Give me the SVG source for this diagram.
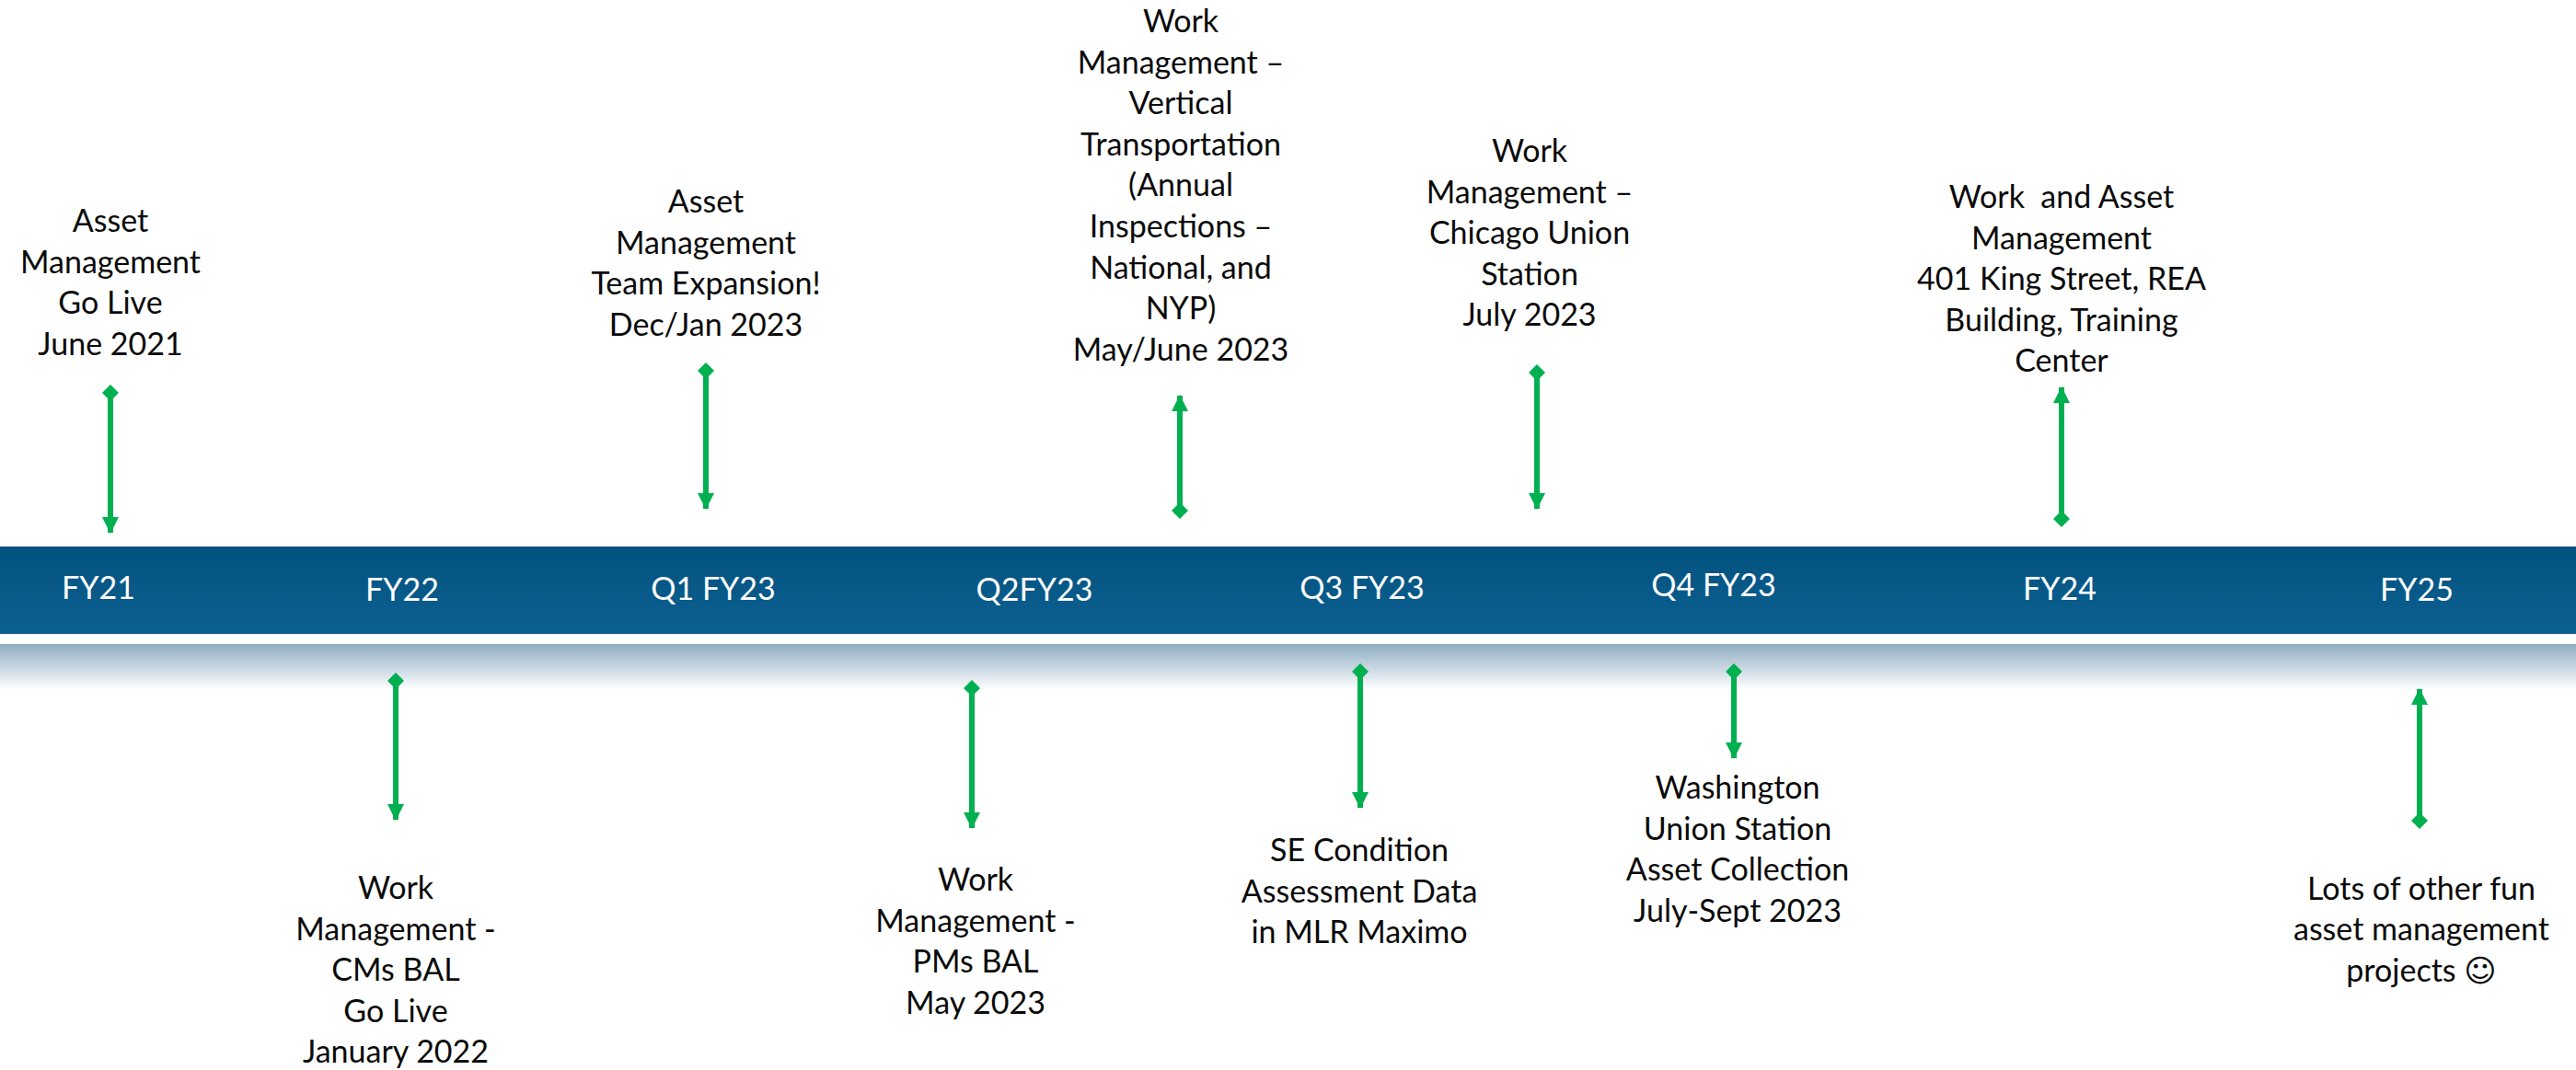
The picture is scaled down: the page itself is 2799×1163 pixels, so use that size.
<svg xmlns="http://www.w3.org/2000/svg" width="2799" height="1163" viewBox="0 0 2799 1163">
<style>
.t{font-family:"Lato","Liberation Sans",sans-serif;font-size:34px;fill:#0a0a0a;text-anchor:middle;white-space:pre}
.b{font-family:"Lato","Liberation Sans",sans-serif;font-size:34px;fill:#fff;text-anchor:middle}
.c{stroke:#00b050;stroke-width:6;fill:none}
.s{font-family:"DejaVu Sans",sans-serif}
</style>
<defs>
<linearGradient id="bar" x1="0" y1="0" x2="0" y2="1"><stop offset="0" stop-color="#03527f"/><stop offset="1" stop-color="#0c6091"/></linearGradient>
<linearGradient id="fade" x1="0" y1="0" x2="0" y2="1"><stop offset="0" stop-color="#8fadc3"/><stop offset="1" stop-color="#fff"/></linearGradient>
<marker id="arr" markerUnits="userSpaceOnUse" markerWidth="18" markerHeight="18" refX="17" refY="9" orient="auto-start-reverse"><path d="M0 0L18 9L0 18Z" fill="#00b050"/></marker>
<marker id="dia" markerUnits="userSpaceOnUse" markerWidth="18" markerHeight="18" refX="9" refY="9" orient="auto"><path d="M0 9L9 0L18 9L9 18Z" fill="#00b050"/></marker>
</defs>
<g id="timeline-bar"><rect x="0" y="594" width="2799" height="95" fill="url(#bar)"/><rect x="0" y="700" width="2799" height="50" fill="url(#fade)"/></g>
<g id="connectors">
<path class="c" d="M120 427V579" marker-start="url(#dia)" marker-end="url(#arr)"/>
<path class="c" d="M430 740V891" marker-start="url(#dia)" marker-end="url(#arr)"/>
<path class="c" d="M767 403V553" marker-start="url(#dia)" marker-end="url(#arr)"/>
<path class="c" d="M1056 748V900" marker-start="url(#dia)" marker-end="url(#arr)"/>
<path class="c" d="M1282 555V430" marker-start="url(#dia)" marker-end="url(#arr)"/>
<path class="c" d="M1478 730V878" marker-start="url(#dia)" marker-end="url(#arr)"/>
<path class="c" d="M1670 405V553" marker-start="url(#dia)" marker-end="url(#arr)"/>
<path class="c" d="M1884 730V824" marker-start="url(#dia)" marker-end="url(#arr)"/>
<path class="c" d="M2240 564V421" marker-start="url(#dia)" marker-end="url(#arr)"/>
<path class="c" d="M2629 892V749" marker-start="url(#dia)" marker-end="url(#arr)"/>
</g>
<g id="fy21"><text class="b" x="107" y="651">FY21</text></g>
<g id="fy22"><text class="b" x="437" y="653">FY22</text></g>
<g id="q1fy23"><text class="b" x="775" y="652">Q1 FY23</text></g>
<g id="q2fy23"><text class="b" x="1124" y="653">Q2FY23</text></g>
<g id="q3fy23"><text class="b" x="1480" y="651">Q3 FY23</text></g>
<g id="q4fy23"><text class="b" x="1862" y="648">Q4 FY23</text></g>
<g id="fy24"><text class="b" x="2238" y="652">FY24</text></g>
<g id="fy25"><text class="b" x="2626" y="653">FY25</text></g>
<g id="n-asset-live"><text class="t"><tspan x="120" y="252">Asset</tspan><tspan x="120" y="296.6">Management</tspan><tspan x="120" y="341.2">Go Live</tspan><tspan x="120" y="385.8">June 2021</tspan></text></g>
<g id="n-cms"><text class="t"><tspan x="430" y="977">Work</tspan><tspan x="430" y="1021.6">Management -</tspan><tspan x="430" y="1066.2">CMs BAL</tspan><tspan x="430" y="1110.8">Go Live</tspan><tspan x="430" y="1155.4">January 2022</tspan></text></g>
<g id="n-team"><text class="t"><tspan x="767" y="231">Asset</tspan><tspan x="767" y="275.6">Management</tspan><tspan x="767" y="320.2">Team Expansion!</tspan><tspan x="767" y="364.8">Dec/Jan 2023</tspan></text></g>
<g id="n-pms"><text class="t"><tspan x="1060" y="968">Work</tspan><tspan x="1060" y="1012.6">Management -</tspan><tspan x="1060" y="1057.2">PMs BAL</tspan><tspan x="1060" y="1101.8">May 2023</tspan></text></g>
<g id="n-vertical"><text class="t"><tspan x="1283" y="35">Work</tspan><tspan x="1283" y="79.6">Management –</tspan><tspan x="1283" y="124.2">Vertical</tspan><tspan x="1283" y="168.8">Transportation</tspan><tspan x="1283" y="213.4">(Annual</tspan><tspan x="1283" y="258">Inspections –</tspan><tspan x="1283" y="302.6">National, and</tspan><tspan x="1283" y="347.2">NYP)</tspan><tspan x="1283" y="391.8">May/June 2023</tspan></text></g>
<g id="n-se"><text class="t"><tspan x="1477" y="936">SE Condition</tspan><tspan x="1477" y="980.6">Assessment Data</tspan><tspan x="1477" y="1025.2">in MLR Maximo</tspan></text></g>
<g id="n-chicago"><text class="t"><tspan x="1662" y="176">Work</tspan><tspan x="1662" y="220.6">Management –</tspan><tspan x="1662" y="265.2">Chicago Union</tspan><tspan x="1662" y="309.8">Station</tspan><tspan x="1662" y="354.4">July 2023</tspan></text></g>
<g id="n-washington"><text class="t"><tspan x="1888" y="868">Washington</tspan><tspan x="1888" y="912.6">Union Station</tspan><tspan x="1888" y="957.2">Asset Collection</tspan><tspan x="1888" y="1001.8">July-Sept 2023</tspan></text></g>
<g id="n-king"><text class="t"><tspan x="2240" y="226">Work  and Asset</tspan><tspan x="2240" y="270.6">Management</tspan><tspan x="2240" y="315.2">401 King Street, REA</tspan><tspan x="2240" y="359.8">Building, Training</tspan><tspan x="2240" y="404.4">Center</tspan></text></g>
<g id="n-fun"><text class="t"><tspan x="2631" y="977.5">Lots of other fun</tspan><tspan x="2631" y="1022.1">asset management</tspan><tspan x="2631" y="1066.7">projects <tspan class="s">☺</tspan></tspan></text></g>
</svg>
